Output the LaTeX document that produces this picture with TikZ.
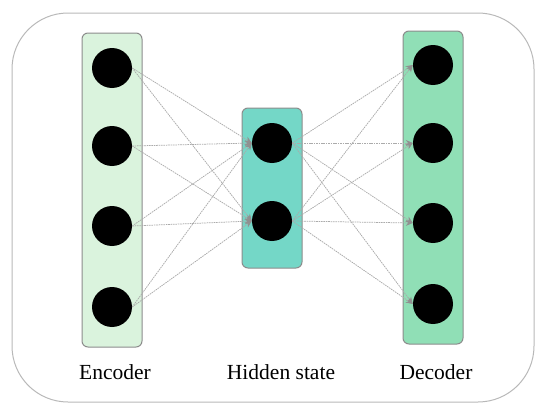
\documentclass[tikz,border=0pt]{standalone}
\usepackage{fontspec}
\setmainfont{Liberation Serif}
\usetikzlibrary{arrows.meta}
\definecolor{encfill}{HTML}{DAF3DD}
\definecolor{hidfill}{HTML}{74D7C7}
\definecolor{decfill}{HTML}{90DFB6}
\definecolor{boxline}{HTML}{8C8C8C}
\definecolor{edgecol}{HTML}{ABABAB}
\definecolor{tipcol}{HTML}{909090}
\begin{document}
\begin{tikzpicture}[x=1pt,y=-1pt,
  layerbox/.style={draw=boxline,line width=1pt,rounded corners=6pt},
  neuron/.style={circle,fill=black,minimum size=40pt,inner sep=0pt},
  conn/.style={draw=edgecol,line width=0.75pt,dash pattern=on 1.6pt off 0.8pt,
    -{Stealth[length=7pt,width=6pt,color=tipcol]}},
  lbl/.style={anchor=base,font=\fontsize{21.5}{24}\selectfont}]
\useasboundingbox (0,0) rectangle (550,415);
\draw[draw=black!28,line width=1pt,rounded corners=56pt] (12,13) rectangle (534,402);
\draw[layerbox,fill=encfill] (82,33) rectangle (142,347);
\draw[layerbox,fill=hidfill] (242,108) rectangle (302,268);
\draw[layerbox,fill=decfill] (403,31) rectangle (463,344);
\node[neuron] (e1) at (112,68) {};
\node[neuron] (e2) at (112,146) {};
\node[neuron] (e3) at (112,226) {};
\node[neuron] (e4) at (112,307) {};
\node[neuron] (h1) at (272,143) {};
\node[neuron] (h2) at (272,221) {};
\node[neuron] (d1) at (433,65) {};
\node[neuron] (d2) at (433,143) {};
\node[neuron] (d3) at (433,223) {};
\node[neuron] (d4) at (433,304) {};
\foreach \s in {e1,e2,e3,e4}{\foreach \t in {h1,h2}{\draw[conn] (\s.east) -- (\t.west);}}
\foreach \s in {h1,h2}{\foreach \t in {d1,d2,d3,d4}{\draw[conn] (\s.east) -- (\t.west);}}
\node[lbl] (le) at (115,379) {Encoder};
\node[lbl] (lh) at (281,379) {Hidden state};
\node[lbl] (ld) at (436,379) {Decoder};
\end{tikzpicture}
\end{document}
